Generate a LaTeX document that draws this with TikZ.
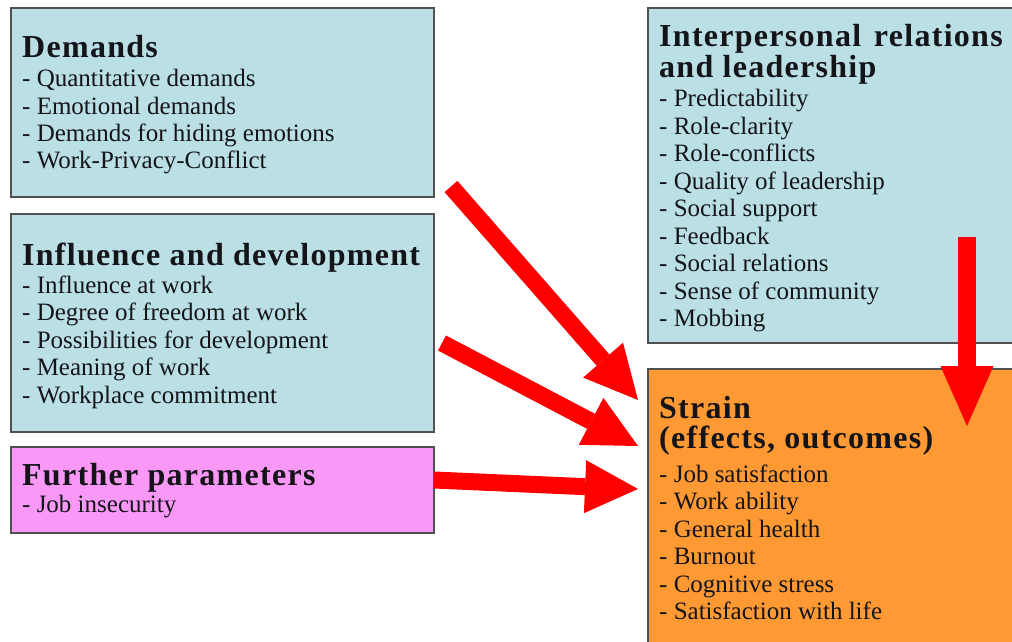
\documentclass[tikz,border=0pt]{standalone}
\usepackage{fontspec}
\setmainfont{Liberation Serif}
\usetikzlibrary{arrows.meta,calc}
\definecolor{boxblue}{RGB}{186,223,228}
\definecolor{boxpink}{RGB}{250,152,248}
\definecolor{boxorange}{RGB}{255,153,51}
\definecolor{arrowred}{RGB}{255,0,0}
\definecolor{txtc}{RGB}{20,20,25}
\definecolor{edgec}{RGB}{80,80,80}
\newfontfamily\ttlfamily[LetterSpace=4]{Liberation Serif}
\newcommand\ttlfont{\ttlfamily\fontsize{32}{32}\selectfont\bfseries}
\newcommand\bodyfont{\fontsize{25}{25}\selectfont}
\newcommand\tline[2]{\baselineskip=#1pt\relax\hbox{#2}}
\tikzset{
  box/.style={draw=edgec, line width=1.2pt, rectangle, inner sep=0pt, outer sep=0pt, anchor=north west},
  txt/.style={anchor=base west, inner sep=0pt, text=txtc},
  bigarrow/.style={draw=arrowred, line width=17pt, -{Triangle[width=53pt,length=53pt,line width=0pt]}},
}
\begin{document}
\begin{tikzpicture}[x=1pt,y=-1pt]
\useasboundingbox (0,0) rectangle (1012,642);
\clip (0,0) rectangle (1012,642);
% boxes
\node[box, fill=boxblue, minimum width=423pt, minimum height=189pt] (dem) at (11,8) {};
\node[box, fill=boxblue, minimum width=423pt, minimum height=218pt] (inf) at (11,214) {};
\node[box, fill=boxpink, minimum width=423pt, minimum height=86pt] (fur) at (11,447) {};
\node[box, fill=boxblue, minimum width=372pt, minimum height=335pt] (ipr) at (648,8) {};
\node[box, fill=boxorange, minimum width=372pt, minimum height=285pt] (str) at (648,369) {};
% texts
\node[txt] (demt) at (22,58) {\vtop{%
  \tline{0}{\ttlfont Demands}%
  \tline{29}{\bodyfont - Quantitative demands}%
  \tline{27.2}{\bodyfont - Emotional demands}%
  \tline{27.2}{\bodyfont - Demands for hiding emotions}%
  \tline{27.2}{\bodyfont - Work-Privacy-Conflict}}};
\node[txt] (inft) at (22,265) {\vtop{%
  \tline{0}{\ttlfont Influence and development}%
  \tline{28}{\bodyfont - Influence at work}%
  \tline{27.5}{\bodyfont - Degree of freedom at work}%
  \tline{27.5}{\bodyfont - Possibilities for development}%
  \tline{27.5}{\bodyfont - Meaning of work}%
  \tline{27.5}{\bodyfont - Workplace commitment}}};
\node[txt] (furt) at (22,485) {\vtop{%
  \tline{0}{\ttlfont Further parameters}%
  \tline{27}{\bodyfont - Job insecurity}}};
\node[txt] (iprt) at (659,47) {\vtop{%
  \tline{0}{\ttlfont Interpersonal\hspace{0.4em}relations}%
  \tline{31}{\ttlfont and leadership}%
  \tline{29}{\bodyfont - Predictability}%
  \tline{27.5}{\bodyfont - Role-clarity}%
  \tline{27.5}{\bodyfont - Role-conflicts}%
  \tline{27.5}{\bodyfont - Quality of leadership}%
  \tline{27.5}{\bodyfont - Social support}%
  \tline{27.5}{\bodyfont - Feedback}%
  \tline{27.5}{\bodyfont - Social relations}%
  \tline{27.5}{\bodyfont - Sense of community}%
  \tline{27.5}{\bodyfont - Mobbing}}};
\node[txt] (strt) at (659,418) {\vtop{%
  \tline{0}{\ttlfont Strain}%
  \tline{30}{\ttlfont (effects, outcomes)}%
  \tline{34}{\bodyfont - Job satisfaction}%
  \tline{27.5}{\bodyfont - Work ability}%
  \tline{27.5}{\bodyfont - General health}%
  \tline{27.5}{\bodyfont - Burnout}%
  \tline{27.5}{\bodyfont - Cognitive stress}%
  \tline{27.5}{\bodyfont - Satisfaction with life}}};
% arrow ends
\coordinate (a1s) at ($(dem.south east)+(17,-10.5)$);
\coordinate (a1e) at ($(str.north west)+(-10,31)$);
\coordinate (a2s) at ($(inf.east)+(8,20)$);
\coordinate (a2e) at ($(str.north west)+(-10,77)$);
\coordinate (a3s) at ($(fur.east)+(0,-10)$);
\coordinate (a3e) at ($(str.north west)+(-10,120)$);
\coordinate (a4s) at ($(str.north west)+(319,-132)$);
\coordinate (a4e) at ($(str.north west)+(319,57)$);
% arrows
\draw[bigarrow] (a1s) -- (a1e);
\draw[bigarrow] (a2s) -- (a2e);
\draw[bigarrow] (a3s) -- (a3e);
\draw[draw=arrowred, line width=18pt, -{Triangle[width=53pt,length=60pt,line width=0pt]}] (a4s) -- (a4e);
\end{tikzpicture}
\end{document}
